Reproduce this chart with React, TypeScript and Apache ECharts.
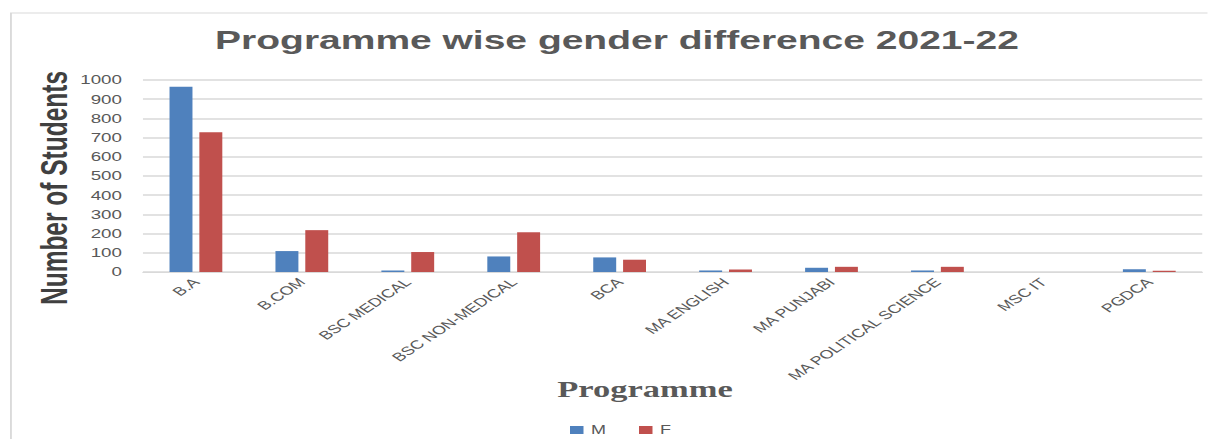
import React, { useEffect, useRef } from "react";
import * as echarts from "echarts";

const categories = [
  "B.A",
  "B.COM",
  "BSC MEDICAL",
  "BSC NON-MEDICAL",
  "BCA",
  "MA ENGLISH",
  "MA PUNJABI",
  "MA POLITICAL SCIENCE",
  "MSC IT",
  "PGDCA",
];
const maleValues = [965, 109, 8, 81, 76, 8, 22, 8, 0, 14];
const femaleValues = [728, 218, 104, 207, 64, 13, 27, 27, 0, 7];
const titleText = "Programme wise gender difference 2021-22";
const yAxisTitle = "Number of Students";
const xAxisTitle = "Programme";

// The reference image is stretched horizontally; the chart is drawn narrower and widened by CSS.
const STRETCH = 1.5;
const W = 1208 / STRETCH;
const H = 439;

export default function App() {
  const ref = useRef<HTMLDivElement>(null);
  useEffect(() => {
    if (!ref.current) return;
    const chart = echarts.init(ref.current, undefined, { renderer: "svg" });
    chart.setOption({
      animation: false,
      backgroundColor: "#ffffff",
      graphic: [
        {
          type: "rect",
          shape: { x: 7.3, y: 13, width: 1000, height: 500 },
          style: { fill: "none", stroke: "#d9d9d9", lineWidth: 1.2 },
          silent: true,
          z: -1,
        },
        {
          type: "text",
          x: 411.3,
          y: 40,
          style: {
            text: titleText,
            fontFamily: "Liberation Sans",
            fontWeight: "bold",
            fontSize: 26,
            fill: "#595959",
            align: "center",
            verticalAlign: "middle",
          },
        },
        {
          type: "text",
          x: 36.7,
          y: 188,
          rotation: Math.PI / 2,
          style: {
            text: yAxisTitle,
            fontFamily: "Liberation Sans",
            fontWeight: "bold",
            fontSize: 24.5,
            fill: "#404040",
            align: "center",
            verticalAlign: "middle",
          },
        },
        {
          type: "text",
          x: 430,
          y: 389,
          style: {
            text: xAxisTitle,
            fontFamily: "Liberation Serif",
            fontWeight: "bold",
            fontSize: 23,
            fill: "#595959",
            align: "center",
            verticalAlign: "middle",
          },
        },
      ],
      legend: {
        data: ["M", "F"],
        top: 424,
        left: 380,
        padding: 0,
        itemWidth: 9,
        itemHeight: 8,
        itemGap: 22,
        icon: "rect",
        textStyle: { color: "#595959", fontSize: 12, fontFamily: "Liberation Sans" },
      },
      grid: { left: 95.3, right: 3.5, top: 80, bottom: 167 },
      xAxis: {
        type: "category",
        data: categories,
        axisLine: { lineStyle: { color: "#d9d9d9" } },
        axisTick: { show: false },
        axisLabel: {
          rotate: 45,
          interval: 0,
          color: "#595959",
          fontSize: 12,
          fontFamily: "Liberation Sans",
          margin: 8,
        },
      },
      yAxis: {
        type: "value",
        min: 0,
        max: 1000,
        interval: 100,
        axisLine: { show: false },
        axisTick: { show: false },
        axisLabel: {
          color: "#595959",
          fontSize: 12.5,
          fontFamily: "Liberation Sans",
          margin: 14,
          formatter: (v: number) => String(v),
        },
        splitLine: { lineStyle: { color: "#d9d9d9", width: 1.5 } },
      },
      series: [
        {
          name: "M",
          type: "bar",
          data: maleValues,
          barWidth: 15.3,
          barGap: "30%",
          itemStyle: { color: "#4F81BD" },
        },
        {
          name: "F",
          type: "bar",
          data: femaleValues,
          barWidth: 15.3,
          itemStyle: { color: "#C0504D" },
        },
      ],
    });
    return () => chart.dispose();
  }, []);
  return (
    <div
      ref={ref}
      style={{
        position: "fixed",
        left: 0,
        top: 0,
        width: W,
        height: H,
        transform: `scaleX(${STRETCH})`,
        transformOrigin: "0 0",
      }}
    />
  );
}
